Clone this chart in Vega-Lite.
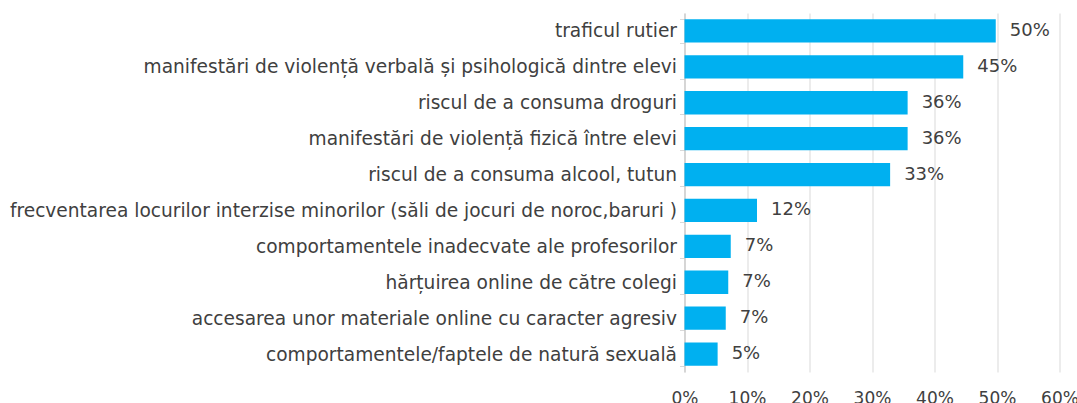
{
  "$schema": "https://vega.github.io/schema/vega-lite/v6.json",
  "width": 375,
  "height": 359,
  "autosize": {"type": "none"},
  "padding": {"left": 684.5, "top": 13, "right": 17.5, "bottom": 31},
  "background": "white",
  "config": {
    "view": {"stroke": null},
    "font": "DejaVu Sans",
    "axis": {"labelFont": "DejaVu Sans", "labelColor": "#404040"}
  },
  "data": {
    "values": [
      {"category": "traficul rutier", "value": 0.498},
      {"category": "manifestări de violență verbală și psihologică dintre elevi", "value": 0.446},
      {"category": "riscul de a consuma droguri", "value": 0.357},
      {"category": "manifestări de violență fizică între elevi\u00a0", "value": 0.357},
      {"category": "riscul de a consuma alcool, tutun", "value": 0.329},
      {"category": "frecventarea locurilor interzise minorilor (săli de jocuri de noroc,baruri )", "value": 0.116},
      {"category": "comportamentele inadecvate ale profesorilor", "value": 0.074},
      {"category": "hărțuirea online de către colegi", "value": 0.07},
      {"category": "accesarea unor materiale online cu caracter agresiv\u00a0", "value": 0.066},
      {"category": "comportamentele/faptele de natură sexuală", "value": 0.053}
    ]
  },
  "encoding": {
    "y": {
      "field": "category",
      "type": "nominal",
      "sort": null,
      "title": null,
      "scale": {"paddingInner": 0.35},
      "axis": {
        "labelFontSize": 18.6,
        "labelLimit": 700,
        "tickBand": "extent",
        "tickSize": 5,
        "tickColor": "#d9d9d9",
        "domainColor": "#bfbfbf",
        "labelPadding": 3,
        "grid": false
      }
    },
    "x": {
      "field": "value",
      "type": "quantitative",
      "title": null,
      "scale": {"domain": [0, 0.6], "nice": false},
      "axis": {
        "format": ".0%",
        "values": [0, 0.1, 0.2, 0.3, 0.4, 0.5, 0.6],
        "labelFontSize": 17,
        "domain": false,
        "ticks": false,
        "grid": true,
        "gridColor": "#d9d9d9",
        "labelPadding": 18,
        "labelFlush": false
      }
    }
  },
  "layer": [
    {"mark": {"type": "bar", "color": "#00b0f0"}},
    {
      "mark": {"type": "text", "align": "left", "dx": 14, "fontSize": 18, "color": "#404040", "font": "DejaVu Sans"},
      "encoding": {"text": {"field": "value", "type": "quantitative", "format": ".0%"}}
    }
  ]
}
